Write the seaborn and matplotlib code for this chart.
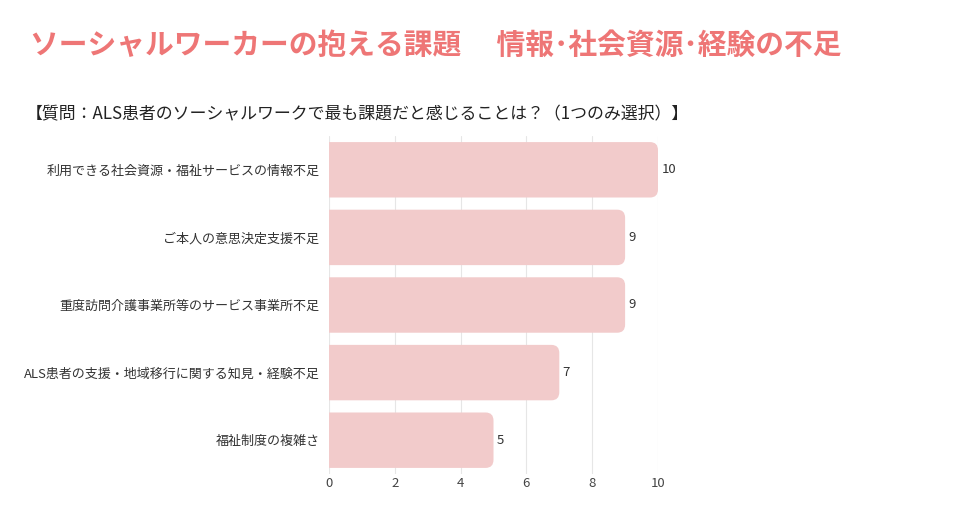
import matplotlib
matplotlib.use("Agg")
import numpy as np
import pandas as pd
import matplotlib.pyplot as plt
from matplotlib.patches import FancyBboxPatch
import seaborn as sns

# データ
categories = [
    "利用できる社会資源・福祉サービスの情報不足",
    "ご本人の意思決定支援不足",
    "重度訪問介護事業所等のサービス事業所不足",
    "ALS患者の支援・地域移行に関する知見・経験不足",
    "福祉制度の複雑さ",
]
counts = [10, 9, 9, 7, 5]
x_ticks = [0, 2, 4, 6, 8, 10]

title = "ソーシャルワーカーの抱える課題　 情報･社会資源･経験の不足"
subtitle = "【質問：ALS患者のソーシャルワークで最も課題だと感じることは？（1つのみ選択）】"

df = pd.DataFrame({"category": categories, "count": counts})

sns.set_theme(style="white")
plt.rcParams["font.family"] = ["Noto Sans CJK JP", "DejaVu Sans"]

fig = plt.figure(figsize=(9.6, 5.05), dpi=100)
ax = fig.add_axes([329 / 960, 1 - 474 / 505, 329 / 960, 338 / 505])

bar_color = "#F2CBCB"
sns.barplot(data=df, x="count", y="category", color=bar_color, width=0.82,
            saturation=1, ax=ax, zorder=2)

# 角丸に置き換え
r = 0.24
for p in list(ax.patches):
    x0, y0 = p.get_x(), p.get_y()
    w, h = p.get_width(), p.get_height()
    p.remove()
    fb = FancyBboxPatch((x0 - r, y0), w + r, h,
                        boxstyle=f"round,pad=0,rounding_size={r}",
                        mutation_aspect=0.5, facecolor=bar_color,
                        edgecolor="none", zorder=2)
    ax.add_patch(fb)

for i, v in enumerate(counts):
    ax.text(v + 0.1, i, str(v), va="center", ha="left", fontsize=9.5,
            color="#333333", clip_on=False)

ax.set_xlim(0, 10)
ax.set_xticks(x_ticks)
ax.set_xlabel("")
ax.set_ylabel("")
ax.grid(axis="x", color="#e6e6e6", linewidth=0.8, zorder=0)
ax.grid(axis="y", visible=False)
ax.set_axisbelow(True)
for s in ax.spines.values():
    s.set_visible(False)
ax.tick_params(axis="y", length=0, pad=7, labelsize=9.4, labelcolor="#333333")
ax.tick_params(axis="x", length=0, pad=2, labelsize=9.5, labelcolor="#444444")

fig.text(30 / 960, 1 - 45 / 505, title, fontsize=20.7, fontweight="bold",
         color="#EE7676", va="center", ha="left")
fig.text(26 / 960, 1 - 114 / 505, subtitle, fontsize=12.2, color="#222222",
         va="center", ha="left")

fig.savefig("out.png", dpi=100)
